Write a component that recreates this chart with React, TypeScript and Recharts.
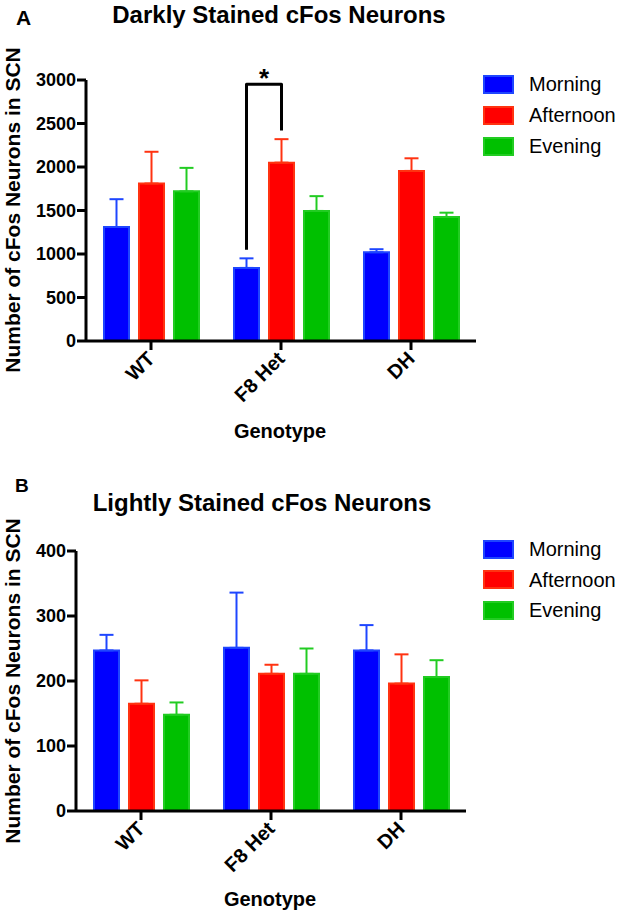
import { BarChart, Bar, XAxis, YAxis, ErrorBar, Legend } from 'recharts';

// genotype groups on the x axis
const genotypes = ['WT', 'F8 Het', 'DH'];

// panel A - darkly stained neurons (mean, upper SEM)
const darkMorning = [1310, 840, 1020];
const darkMorningErr = [320, 110, 35];
const darkAfternoon = [1810, 2050, 1955];
const darkAfternoonErr = [365, 270, 145];
const darkEvening = [1720, 1495, 1425];
const darkEveningErr = [270, 170, 50];
const darkTicks = [0, 500, 1000, 1500, 2000, 2500, 3000];

// panel B - lightly stained neurons
const lightMorning = [247, 251, 247];
const lightMorningErr = [24, 85, 39];
const lightAfternoon = [165, 211, 196];
const lightAfternoonErr = [36, 14, 45];
const lightEvening = [148, 211, 206];
const lightEveningErr = [19, 39, 26];
const lightTicks = [0, 100, 200, 300, 400];

// significance bracket in panel A: F8 Het, Morning vs Afternoon
const sigGroup = 1;
const sigTop = 2950;
const sigLegGap = 100;

const series = [
  { key: 'morning', name: 'Morning', fill: '#0000ff', edge: '#1e46ff' },
  { key: 'afternoon', name: 'Afternoon', fill: '#ff0000', edge: '#ff3311' },
  { key: 'evening', name: 'Evening', fill: '#00c000', edge: '#22cc22' },
];

const FONT = '"Liberation Sans", Arial, Helvetica, sans-serif';
const BAR_SIZE = 25;
const BAR_GAP = 10;
const CHART_W = 624;

const buildRows = (m: number[], me: number[], a: number[], ae: number[], e: number[], ee: number[]) =>
  genotypes.map((g, i) => ({
    genotype: g,
    morning: m[i],
    morningErr: [0, me[i]],
    afternoon: a[i],
    afternoonErr: [0, ae[i]],
    evening: e[i],
    eveningErr: [0, ee[i]],
  }));

const darkRows = buildRows(darkMorning, darkMorningErr, darkAfternoon, darkAfternoonErr, darkEvening, darkEveningErr);
const lightRows = buildRows(lightMorning, lightMorningErr, lightAfternoon, lightAfternoonErr, lightEvening, lightEveningErr);

const axisStyle = { stroke: '#000', strokeWidth: 3 };

const GenotypeTick = (props: any) => {
  const { x, y, payload } = props;
  const ax = x + 5;
  const ay = y + 8;
  return (
    <text
      x={ax}
      y={ay}
      transform={`rotate(-45, ${ax}, ${ay})`}
      textAnchor="end"
      fontSize={20}
      fontWeight="bold"
      fill="#000"
      fontFamily={FONT}
    >
      {payload.value}
    </text>
  );
};

const legendContent = (rowH: number) => (props: any) => {
  const payload = [...(props.payload || [])].sort(
    (p: any, q: any) => series.findIndex((s) => s.name === p.value) - series.findIndex((s) => s.name === q.value),
  );
  return (
    <div style={{ fontFamily: FONT }}>
      {payload.map((p: any) => {
        const s = series.find((d) => d.name === p.value);
        return (
          <div key={p.value} style={{ display: 'flex', alignItems: 'center', height: rowH }}>
            <div
              style={{
                width: 31,
                height: 19,
                boxSizing: 'border-box',
                background: s ? s.fill : p.color,
                border: `2px solid ${s ? s.edge : p.color}`,
              }}
            />
            <span style={{ marginLeft: 15, fontSize: 20, lineHeight: 1, color: '#000' }}>{p.value}</span>
          </div>
        );
      })}
    </div>
  );
};

// bracket + star drawn from the geometry of the F8 Het morning bar
const SigBracket = (props: any) => {
  const { index } = props;
  if (index !== sigGroup) return null;
  const vb = props.viewBox || {};
  const x = props.x ?? vb.x;
  const y = props.y ?? vb.y;
  const width = props.width ?? vb.width;
  const height = props.height ?? vb.height;
  const value = darkMorning[sigGroup];
  const ppu = height / value;
  const base = y + height;
  const yOf = (v: number) => base - v * ppu;
  const lx = x + width / 2;
  const rx = lx + BAR_SIZE + BAR_GAP;
  const leftEnd = darkMorning[sigGroup] + darkMorningErr[sigGroup] + sigLegGap;
  const rightEnd = darkAfternoon[sigGroup] + darkAfternoonErr[sigGroup] + sigLegGap;
  const top = yOf(sigTop);
  return (
    <g>
      <path
        d={`M ${lx} ${yOf(leftEnd)} V ${top} H ${rx} V ${yOf(rightEnd)}`}
        fill="none"
        stroke="#000"
        strokeWidth={3}
        strokeLinejoin="round"
      />
      <text x={(lx + rx) / 2} y={top + 3} textAnchor="middle" fontSize={26} fontWeight="bold" fill="#000" fontFamily={FONT}>
        *
      </text>
    </g>
  );
};

const renderBars = (withSig: boolean) =>
  series.map((s) => (
    <Bar
      key={s.key}
      dataKey={s.key}
      name={s.name}
      fill={s.fill}
      stroke={s.edge}
      strokeWidth={2}
      barSize={BAR_SIZE}
      isAnimationActive={false}
      label={withSig && s.key === 'morning' ? SigBracket : undefined}
    >
      <ErrorBar dataKey={`${s.key}Err`} width={7} strokeWidth={2} stroke={s.edge} direction="y" isAnimationActive={false} />
    </Bar>
  ));

const DarkChart = () => (
  <BarChart width={CHART_W} height={460} data={darkRows} margin={{ top: 80, right: 148, left: 0, bottom: 59 }} barGap={BAR_GAP}>
    <XAxis
      dataKey="genotype"
      interval={0}
      height={60}
      tick={GenotypeTick}
      tickSize={9}
      axisLine={axisStyle}
      tickLine={axisStyle}
    />
    <YAxis
      domain={[0, 3000]}
      ticks={darkTicks}
      interval={0}
      width={86}
      tickSize={9}
      tickMargin={1}
      axisLine={axisStyle}
      tickLine={axisStyle}
      tick={{ fontSize: 18, fontWeight: 'bold', fill: '#000', fontFamily: FONT }}
    />
    <Legend
      layout="vertical"
      align="center"
      verticalAlign="middle"
      wrapperStyle={{ top: 68.5, left: 483, width: 140 }}
      content={legendContent(31)}
    />
    {renderBars(true)}
  </BarChart>
);

const LightChart = () => (
  <BarChart width={CHART_W} height={456} data={lightRows} margin={{ top: 91, right: 158, left: 0, bottom: 45 }} barGap={BAR_GAP}>
    <XAxis
      dataKey="genotype"
      interval={0}
      height={60}
      tick={GenotypeTick}
      tickSize={9}
      axisLine={axisStyle}
      tickLine={axisStyle}
    />
    <YAxis
      domain={[0, 400]}
      ticks={lightTicks}
      interval={0}
      width={76}
      tickSize={9}
      tickMargin={1}
      axisLine={axisStyle}
      tickLine={axisStyle}
      tick={{ fontSize: 18, fontWeight: 'bold', fill: '#000', fontFamily: FONT }}
    />
    <Legend
      layout="vertical"
      align="center"
      verticalAlign="middle"
      wrapperStyle={{ top: 73.75, left: 483, width: 140 }}
      content={legendContent(30.5)}
    />
    {renderBars(false)}
  </BarChart>
);

const yLabel = 'Number of cFos Neurons in SCN';

export default function App() {
  return (
    <div style={{ position: 'absolute', left: 0, top: 0, width: 624, height: 916, background: '#fff', fontFamily: FONT }}>
      <div style={{ position: 'absolute', left: 0, top: 0 }}>
        <DarkChart />
      </div>
      <div style={{ position: 'absolute', left: 0, top: 460 }}>
        <LightChart />
      </div>
      <svg
        width={624}
        height={916}
        style={{ position: 'absolute', left: 0, top: 0, pointerEvents: 'none' }}
        fontFamily={FONT}
        fontWeight="bold"
        fill="#000"
      >
        <text x={16} y={25} fontSize={21}>A</text>
        <text x={279} y={23} fontSize={24} textAnchor="middle">Darkly Stained cFos Neurons</text>
        <text x={20} y={210} fontSize={21} textAnchor="middle" transform="rotate(-90, 20, 210)">{yLabel}</text>
        <text x={280} y={438} fontSize={20} textAnchor="middle">Genotype</text>

        <text x={15} y={492} fontSize={19}>B</text>
        <text x={262} y={511} fontSize={24} textAnchor="middle">Lightly Stained cFos Neurons</text>
        <text x={20} y={681} fontSize={21} textAnchor="middle" transform="rotate(-90, 20, 681)">{yLabel}</text>
        <text x={270} y={906} fontSize={20} textAnchor="middle">Genotype</text>
      </svg>
    </div>
  );
}
